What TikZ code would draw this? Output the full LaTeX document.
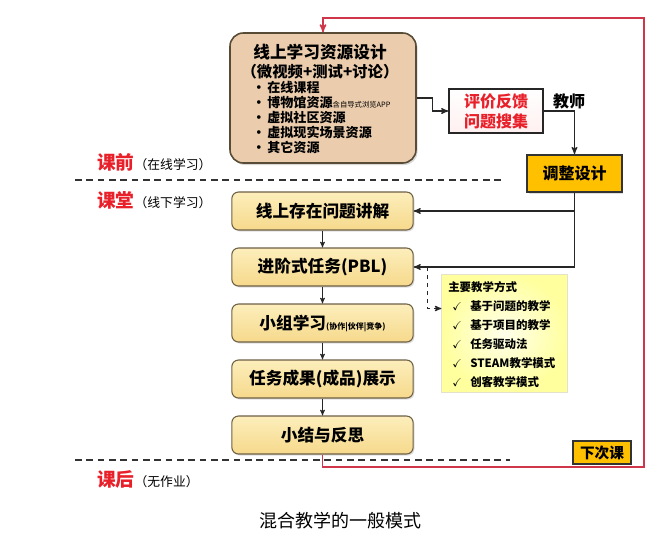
\documentclass[tikz,border=0pt]{standalone}
\usepackage{amssymb}
\usepackage{fontspec}
\setmainfont{Noto Sans CJK SC}
\usetikzlibrary{arrows,positioning,shadows}
\definecolor{boxline}{HTML}{6E5F45}
\definecolor{restan}{HTML}{EBCDAE}
\definecolor{stagetop}{HTML}{FCEEBB}
\definecolor{stagebot}{HTML}{F6D98C}
\definecolor{goldfill}{HTML}{FFC000}
\definecolor{redline}{HTML}{D0364A}
\definecolor{phasered}{HTML}{E8202A}
\tikzset{>=stealth',auto,node distance=42pt}

\begin{document}
\begin{tikzpicture}[x=0.75pt,y=-0.75pt]
	\tikzset{
		stagebox/.style={draw=boxline,line width=0.8pt,rounded corners=5pt,
			top color=stagetop,bottom color=stagebot,
			minimum width=136pt,minimum height=28.5pt,
			font=\bfseries\fontsize{12.5}{14}\selectfont,
			drop shadow={opacity=0.25,shadow xshift=1pt,shadow yshift=-1.2pt}},
		goldbox/.style={draw=black!80,line width=1.2pt,fill=goldfill,
			font=\bfseries\fontsize{12}{14}\selectfont,
			drop shadow={opacity=0.25,shadow xshift=1pt,shadow yshift=-1pt}},
		phase/.style={anchor=west,inner sep=0pt},
		phasecut/.style={dashed,dash pattern=on 5pt off 3.5pt,line width=0.9pt,black!80},
		flow/.style={->,black!85,line width=0.6pt}
	}
	\useasboundingbox (0,0) rectangle (663,536);

	% online resources
	\node[draw=boxline!80!black,line width=1.2pt,fill=restan,rounded corners=10pt,
		minimum width=139.5pt,minimum height=97.5pt,
		drop shadow={opacity=0.3,shadow xshift=1.2pt,shadow yshift=-1.5pt}] (res) at (323,98) {};
	\node[font=\bfseries\fontsize{12.5}{14}\selectfont] (restitle) at (320,52) {线上学习资源设计};
	\node[font=\bfseries\fontsize{11.5}{13}\selectfont] (ressub) at (320,72) {（微视频+测试+讨论）};
	\node[anchor=west,align=left,inner sep=0pt,font=\bfseries\fontsize{9.8}{11.25}\selectfont] (reslist) at (252,118)
		{•\hspace{1.5pt}在线课程\\
		 •\hspace{1.5pt}博物馆资源{\mdseries\fontsize{5.5}{6}\selectfont 含自导式浏览APP}\\
		 •\hspace{1.5pt}虚拟社区资源\\
		 •\hspace{1.5pt}虚拟现实场景资源\\
		 •\hspace{1.5pt}其它资源};

	% feedback and redesign
	\node[draw=black!85,line width=1.2pt,top color=white,bottom color=red!6,
		minimum width=70.5pt,minimum height=33pt,align=center,text=phasered,
		font=\bfseries\fontsize{12}{15}\selectfont,
		drop shadow={opacity=0.25,shadow xshift=1pt,shadow yshift=-1pt}] (eval) at (496,111) {评价反馈\\问题搜集};
	\node[font=\bfseries\fontsize{12}{14}\selectfont] (teacher) at (569,101) {教师};
	\node[goldbox,minimum width=71pt,minimum height=28pt] (adjust) at (574.5,173.5) {调整设计};

	% classroom steps
	\node[stagebox] (b1) at (322.5,211) {线上存在问题讲解};
	\node[stagebox] (b2) [below of=b1] {进阶式任务(PBL)};
	\node[stagebox] (b3) [below of=b2] {小组学习{\fontsize{6}{7}\selectfont (协作|伙伴|竞争)}};
	\node[stagebox] (b4) [below of=b3] {任务成果(成品)展示};
	\node[stagebox] (b5) [below of=b4] {小结与反思};

	% teaching methods
	\node[draw=yellow!30!gray!35,line width=0.6pt,inner color=yellow!8,outer color=yellow!38,
		minimum width=94pt,minimum height=88pt] (methods) at (504.5,333.5) {};
	\node[anchor=north west,align=left,inner sep=0pt,font=\bfseries\fontsize{8.6}{14.25}\selectfont] (methodlist) at (448,281)
		{主要教学方式\\
		 \hspace*{3pt}\makebox[13.5pt][l]{$\checkmark$}基于问题的教学\\
		 \hspace*{3pt}\makebox[13.5pt][l]{$\checkmark$}基于项目的教学\\
		 \hspace*{3pt}\makebox[13.5pt][l]{$\checkmark$}任务驱动法\\
		 \hspace*{3pt}\makebox[13.5pt][l]{$\checkmark$}STEAM教学模式\\
		 \hspace*{3pt}\makebox[13.5pt][l]{$\checkmark$}创客教学模式};

	\node[goldbox,line width=1pt,minimum width=43.5pt,minimum height=17pt,
		font=\bfseries\fontsize{11}{13}\selectfont] (next) at (602,452.5) {下次课};

	% phases
	\node[phase] (pre) at (97,162) {{\color{phasered}\bfseries\fontsize{14}{16}\selectfont 课前}{\fontsize{9.6}{11}\selectfont （在线学习）}};
	\node[phase] (inclass) at (97,200) {{\color{phasered}\bfseries\fontsize{14}{16}\selectfont 课堂}{\fontsize{9.6}{11}\selectfont （线下学习）}};
	\node[phase] (post) at (97,479) {{\color{phasered}\bfseries\fontsize{14}{16}\selectfont 课后}{\fontsize{9.6}{11}\selectfont （无作业）}};
	\node[font=\fontsize{13.5}{15}\selectfont] (caption) at (340,521) {混合教学的一般模式};

	\coordinate (cut1w) at (75,180);
	\coordinate (cut1e) at (505,180);
	\coordinate (cut2w) at (75,460);
	\coordinate (cut2e) at (510,460);
	\coordinate (loopse) at (644,467);
	\coordinate (loopne) at (644,18);

	% connectors
	\draw[redline,line width=1.1pt,->] (b5.south) |- (loopse) -- (loopne) -| (res.north);
	\draw[phasecut] (cut1w) -- (cut1e);
	\draw[phasecut] (cut2w) -- (cut2e);
	\draw[flow,line width=0.9pt] (res.east) -- ++(16,0) |- (eval.west);
	\draw[flow,line width=0.9pt] (eval.east) -| (adjust.north);
	\draw[flow,line width=0.9pt] (adjust.south) |- (b1.east);
	\draw[flow,line width=0.9pt] (adjust.south) |- (b2.east);
	\draw[flow,dashed,line width=0.8pt] ([xshift=10.5pt]b2.east) |- ([yshift=18.75pt]methods.west);
	\path[flow]
		(b1) edge (b2)
		(b2) edge (b3)
		(b3) edge (b4)
		(b4) edge (b5);
\end{tikzpicture}
\end{document}
